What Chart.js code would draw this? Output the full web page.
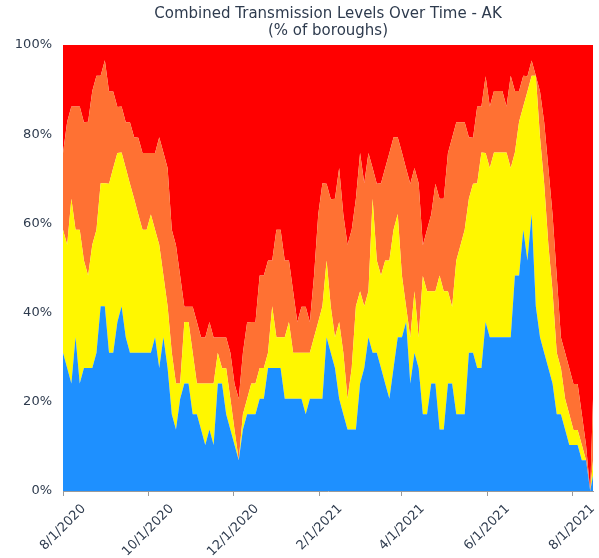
<!DOCTYPE html>
<html>
<head>
<meta charset="utf-8">
<script src="https://cdn.jsdelivr.net/npm/chart.js@4.4.1/dist/chart.umd.min.js"></script>
<style>
  html, body { margin: 0; padding: 0; background: #ffffff; }
  #wrap { width: 599px; height: 558px; }
</style>
</head>
<body>
<div id="wrap"><canvas id="chart" width="599" height="558"></canvas></div>
<script>
const dates = [
  '2020-08-01','2020-08-04','2020-08-07','2020-08-10','2020-08-13','2020-08-16','2020-08-19','2020-08-22','2020-08-25','2020-08-28','2020-08-31',
  '2020-09-03','2020-09-06','2020-09-09','2020-09-12','2020-09-15','2020-09-18','2020-09-21','2020-09-24','2020-09-27','2020-09-30',
  '2020-10-03','2020-10-06','2020-10-09','2020-10-12','2020-10-15','2020-10-18','2020-10-21','2020-10-24','2020-10-27','2020-10-30',
  '2020-11-02','2020-11-05','2020-11-08','2020-11-11','2020-11-14','2020-11-17','2020-11-20','2020-11-23','2020-11-26','2020-11-29',
  '2020-12-02','2020-12-05','2020-12-08','2020-12-11','2020-12-14','2020-12-17','2020-12-20','2020-12-23','2020-12-26','2020-12-29',
  '2021-01-01','2021-01-04','2021-01-07','2021-01-10','2021-01-13','2021-01-16','2021-01-19','2021-01-22','2021-01-25','2021-01-28','2021-01-31',
  '2021-02-03','2021-02-06','2021-02-09','2021-02-12','2021-02-15','2021-02-18','2021-02-21','2021-02-24','2021-02-27',
  '2021-03-02','2021-03-05','2021-03-08','2021-03-11','2021-03-14','2021-03-17','2021-03-20','2021-03-23','2021-03-26','2021-03-29',
  '2021-04-01','2021-04-04','2021-04-07','2021-04-10','2021-04-13','2021-04-16','2021-04-19','2021-04-22','2021-04-25','2021-04-28',
  '2021-05-01','2021-05-04','2021-05-07','2021-05-10','2021-05-13','2021-05-16','2021-05-19','2021-05-22','2021-05-25','2021-05-28','2021-05-31',
  '2021-06-03','2021-06-06','2021-06-09','2021-06-12','2021-06-15','2021-06-18','2021-06-21','2021-06-24','2021-06-27','2021-06-30',
  '2021-07-03','2021-07-06','2021-07-09','2021-07-12','2021-07-15','2021-07-18','2021-07-21','2021-07-24','2021-07-27','2021-07-30',
  '2021-08-02','2021-08-05','2021-08-08','2021-08-11','2021-08-14','2021-08-16'
];

const lowPct = [
  31.0,27.6,24.1,34.5,24.1,27.6,27.6,27.6,31.0,41.4,41.4,
  31.0,31.0,37.9,41.4,34.5,31.0,31.0,31.0,31.0,31.0,
  31.0,34.5,27.6,34.5,27.6,17.2,13.8,20.7,24.1,24.1,
  17.2,17.2,13.8,10.3,13.8,10.3,24.1,24.1,17.2,13.8,
  10.3,6.9,13.8,17.2,17.2,17.2,20.7,20.7,27.6,27.6,
  27.6,27.6,20.7,20.7,20.7,20.7,20.7,17.2,20.7,20.7,20.7,
  20.7,34.5,31.0,27.6,20.7,17.2,13.8,13.8,13.8,
  24.1,27.6,34.5,31.0,31.0,27.6,24.1,20.7,27.6,34.5,
  34.5,37.9,24.1,31.0,27.6,17.2,17.2,24.1,24.1,13.8,
  13.8,24.1,24.1,17.2,17.2,17.2,31.0,31.0,27.6,27.6,37.9,
  34.5,34.5,34.5,34.5,34.5,34.5,48.3,48.3,58.6,51.7,
  62.1,41.4,34.5,31.0,27.6,24.1,17.2,17.2,13.8,10.3,
  10.3,10.3,6.9,6.9,0,3.4
];

const moderatePct = [
  27.6,27.6,41.4,24.1,34.5,24.1,20.7,27.6,27.6,27.6,27.6,
  37.9,41.4,37.9,34.5,37.9,37.9,34.5,31.0,27.6,27.6,
  31.0,24.1,27.6,13.8,13.8,13.8,10.3,3.4,13.8,13.8,
  13.8,6.9,10.3,13.8,10.3,13.8,6.9,3.4,10.3,6.9,
  3.4,0,3.4,3.4,6.9,6.9,6.9,6.9,3.4,13.8,
  6.9,6.9,13.8,17.2,10.3,10.3,10.3,13.8,10.3,13.8,17.2,
  20.7,17.2,10.3,6.9,17.2,13.8,6.9,13.8,27.6,
  20.7,13.8,10.3,34.5,20.7,20.7,27.6,31.0,31.0,27.6,
  13.8,3.4,10.3,13.8,6.9,31.0,27.6,20.7,20.7,34.5,
  31.0,20.7,17.2,34.5,37.9,41.4,34.5,37.9,41.4,48.3,37.9,
  37.9,41.4,41.4,41.4,41.4,37.9,27.6,34.5,27.6,37.9,
  31.0,51.7,44.8,37.9,27.6,20.7,13.8,10.3,6.9,6.9,
  3.4,3.4,3.4,0,0,3.4
];

const substantialPct = [
  17.2,27.6,20.7,27.6,27.6,31.0,34.5,34.5,34.5,24.1,27.6,
  20.7,17.2,10.3,10.3,10.3,13.8,13.8,17.2,17.2,17.2,
  13.8,17.2,24.1,27.6,31.0,27.6,31.0,24.1,3.4,3.4,
  10.3,13.8,10.3,10.3,13.8,10.3,3.4,6.9,6.9,10.3,
  10.3,13.8,13.8,17.2,13.8,13.8,20.7,20.7,20.7,10.3,
  24.1,24.1,17.2,13.8,13.8,6.9,10.3,10.3,6.9,13.8,24.1,
  27.6,17.2,24.1,31.0,34.5,31.0,34.5,31.0,24.1,
  31.0,27.6,31.0,6.9,17.2,20.7,20.7,24.1,20.7,17.2,
  27.6,31.0,34.5,27.6,34.5,6.9,13.8,17.2,24.1,17.2,
  20.7,31.0,37.9,31.0,27.6,24.1,13.8,10.3,17.2,10.3,17.2,
  13.8,13.8,13.8,13.8,10.3,20.7,13.8,6.9,6.9,3.4,
  3.4,0,10.3,13.8,17.2,17.2,17.2,6.9,10.3,10.3,
  10.3,10.3,6.9,3.4,0,13.8
];

const highPct = [
  24.1,17.2,13.8,13.8,13.8,17.2,17.2,10.3,6.9,6.9,3.4,
  10.3,10.3,13.8,13.8,17.2,17.2,20.7,20.7,24.1,24.1,
  24.1,24.1,20.7,24.1,27.6,41.4,44.8,51.7,58.6,58.6,
  58.6,62.1,65.5,65.5,62.1,65.5,65.5,65.5,65.5,69.0,
  75.9,79.3,69.0,62.1,62.1,62.1,51.7,51.7,48.3,48.3,
  41.4,41.4,48.3,48.3,55.2,62.1,58.6,58.6,62.1,51.7,37.9,
  31.0,31.0,34.5,34.5,27.6,37.9,44.8,41.4,34.5,
  24.1,31.0,24.1,27.6,31.0,31.0,27.6,24.1,20.7,20.7,
  24.1,27.6,31.0,27.6,31.0,44.8,41.4,37.9,31.0,34.5,
  34.5,24.1,20.7,17.2,17.2,17.2,20.7,20.7,13.8,13.8,6.9,
  13.8,10.3,10.3,10.3,13.8,6.9,10.3,10.3,6.9,6.9,
  3.4,6.9,10.3,17.2,27.6,37.9,51.7,65.5,69.0,72.4,
  75.9,75.9,82.8,89.7,100,79.3
];

const tickLabels = ['8/1/2020','10/1/2020','12/1/2020','2/1/2021','4/1/2021','6/1/2021','8/1/2021'];
const yTicks = [0, 20, 40, 60, 80, 100];
const titleLines = ['Combined Transmission Levels Over Time - AK', '(% of boroughs)'];

// ---- Styling ----
const COLORS = { low: '#1e90ff', moderate: '#fff700', substantial: '#ff7133', high: '#ff0000' };
const TEXT = '#2e3b4e';
const AXIS = '#9a9a9a';
const FONT = 'DejaVu Sans';

// ---- Build ----
const DAY = 86400000;
const t0 = Date.parse(dates[0]);
const xs = dates.map(s => (Date.parse(s) - t0) / DAY);
const toPoints = arr => arr.map((v, i) => ({ x: xs[i], y: v }));
const tickDays = tickLabels.map(l => {
  const [m, d, y] = l.split('/').map(Number);
  return (Date.UTC(y, m - 1, d) - t0) / DAY;
});

const xLabelPlugin = {
  id: 'xRotatedLabels',
  afterDraw(chart) {
    const sc = chart.scales.x;
    const c = chart.ctx;
    c.save();
    c.font = '13px "' + FONT + '"';
    c.fillStyle = TEXT;
    c.textAlign = 'center';
    c.textBaseline = 'middle';
    const top = sc.top + 12;
    tickLabels.forEach((lab, i) => {
      const x = sc.getPixelForValue(tickDays[i]);
      const w = c.measureText(lab).width;
      const h = 11;
      const half = (w + h) * Math.SQRT1_2 / 2;
      c.save();
      c.translate(x, top + half);
      c.rotate(-Math.PI / 4);
      c.fillText(lab, 0, 0);
      c.restore();
    });
    c.restore();
  }
};

const mk = (label, arr, color, fill, bw) => ({
  label, data: toPoints(arr), backgroundColor: color, borderColor: color,
  borderWidth: bw, pointRadius: 0, tension: 0, fill
});

new Chart(document.getElementById('chart'), {
  type: 'line',
  data: {
    datasets: [
      mk('Low', lowPct, COLORS.low, 'origin', 0),
      mk('Moderate', moderatePct, COLORS.moderate, '-1', 0),
      mk('Substantial', substantialPct, COLORS.substantial, '-1', 0),
      mk('High', highPct, COLORS.high, '-1', 2)
    ]
  },
  options: {
    responsive: false,
    animation: false,
    layout: { padding: { left: 0, right: 6, top: 0, bottom: 0 } },
    plugins: {
      legend: { display: false },
      tooltip: { enabled: false },
      title: {
        display: true, text: titleLines, fullSize: false,
        font: { family: FONT, size: 15, weight: 'normal', lineHeight: 1.15 },
        color: TEXT, padding: { top: 5, bottom: 5.5 }
      }
    },
    scales: {
      x: {
        type: 'linear', min: 0, max: xs[xs.length - 1],
        afterBuildTicks: ax => { ax.ticks = tickDays.map(v => ({ value: v })); },
        ticks: { display: false },
        grid: { display: true, drawOnChartArea: false, drawTicks: true, tickLength: 5, color: AXIS },
        border: { display: true, color: AXIS },
        afterFit: ax => { ax.height = 67; }
      },
      y: {
        stacked: true, min: 0, max: 100,
        afterBuildTicks: ax => { ax.ticks = yTicks.map(v => ({ value: v })); },
        ticks: { callback: v => v + '%', font: { family: FONT, size: 13 }, color: TEXT, padding: 11 },
        grid: { display: false, drawTicks: false },
        border: { display: false },
        afterFit: ax => { ax.width = 63; }
      }
    }
  },
  plugins: [xLabelPlugin]
});
</script>
</body>
</html>
